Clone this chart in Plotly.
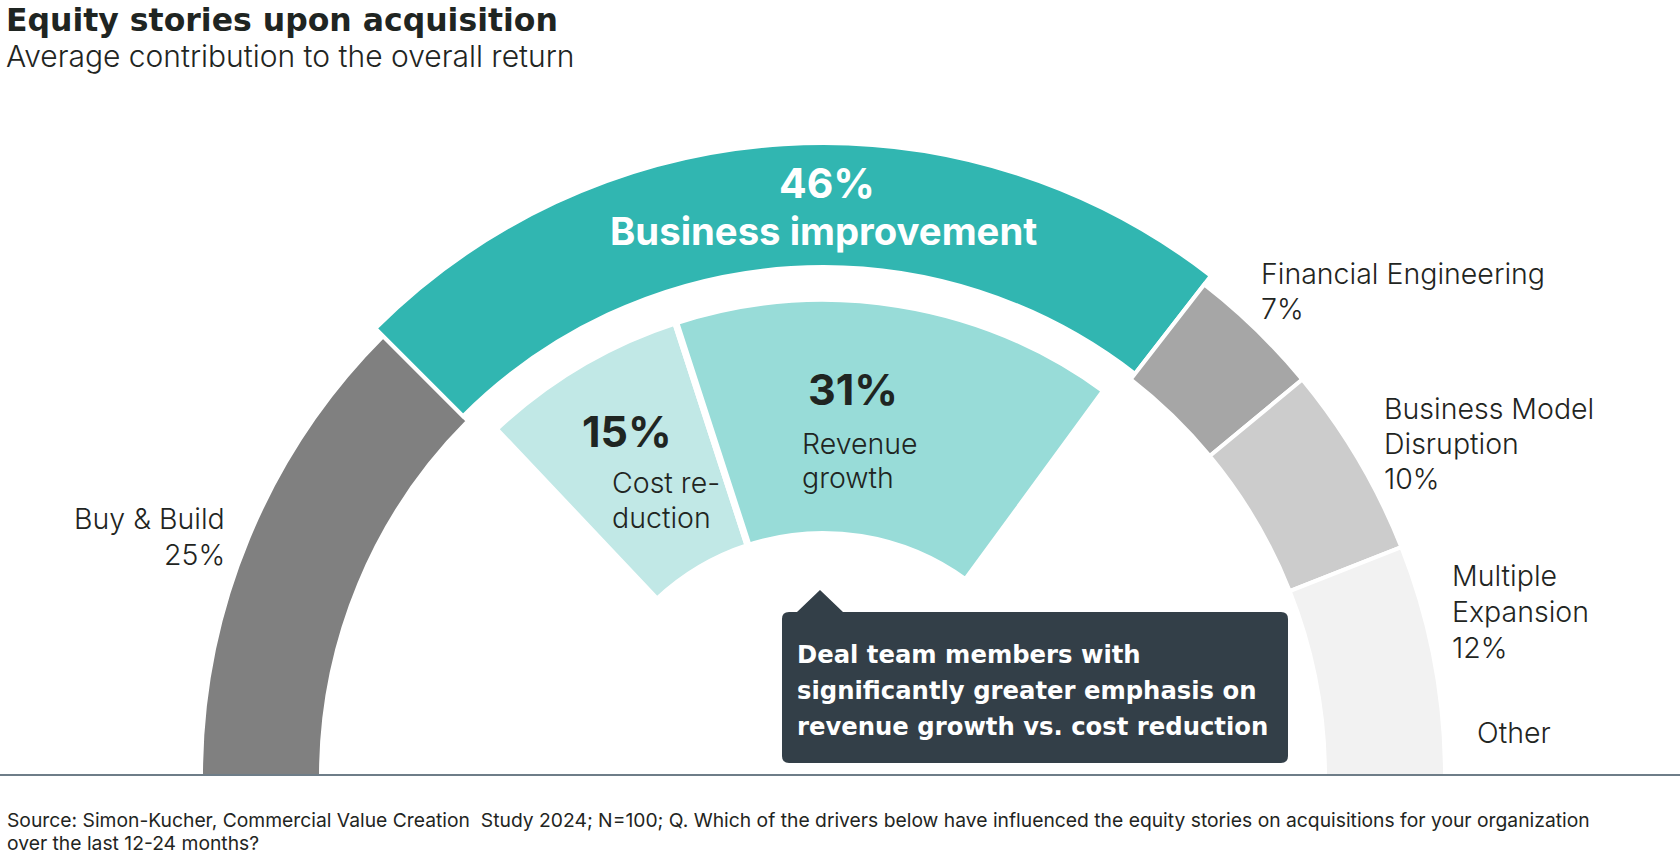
import plotly.graph_objects as go

# ---------------- data ----------------
categories = ["Buy & Build", "Business improvement", "Financial Engineering",
              "Business Model Disruption", "Multiple Expansion", "Other"]
shares = [25, 46, 7, 10, 12, 0]
sub_parent = "Business improvement"
sub_categories = ["Cost reduction", "Revenue growth"]
sub_shares = [15, 31]

title = "Equity stories upon acquisition"
subtitle = "Average contribution to the overall return"
callout_lines = ["Deal team members with",
                 "significantly greater emphasis on",
                 "revenue growth vs. cost reduction"]
source_lines = ["Source: Simon-Kucher, Commercial Value Creation\u00a0 Study 2024; N=100; Q. Which of the drivers below have influenced the equity stories on acquisitions for your organization",
                "over the last 12-24 months?"]

# ---------------- style ----------------
W, H = 1680, 864
CX, CY, RMAX = 823, 776, 640
FONT = "Inter"
WIDE = "DejaVu Sans"
ASCENT = {FONT: 0.969, WIDE: 0.928}
TXT = "#1f2522"
colors = {"Buy & Build": "#808080", "Business improvement": "#31b6b1",
          "Financial Engineering": "#a6a6a6", "Business Model Disruption": "#cccccc",
          "Multiple Expansion": "#f2f2f2", "Other": "#ffffff"}
sub_colors = ["#c1e8e6", "#98dcd8"]
ring = {"gray": (504, 620), "hi": (511, 631), "inner": (245, 474)}
STROKE_OUT, STROKE_IN, INNER_PAD = 4, 7, 1.6

deg = 180.0 / sum(shares)

# outer ring
th, wd, base, rr, cols = [], [], [], [], []
start = 0.0
spans = {}
for c, v in zip(categories, shares):
    span = v * deg
    spans[c] = (start, start + span)
    if v > 0:
        ri, ro = ring["hi"] if c == sub_parent else ring["gray"]
        th.append(start + span / 2)
        wd.append(span)
        base.append(ri - STROKE_OUT / 2)
        rr.append(ro - ri + STROKE_OUT)
        cols.append(colors[c])
    start += span

fig = go.Figure()
fig.add_trace(go.Barpolar(theta=th, width=wd, base=base, r=rr,
                          marker=dict(color=cols, line=dict(color="white", width=STROKE_OUT)),
                          hoverinfo="skip", showlegend=False))

# inner ring (breakdown of the highlighted segment)
p0, p1 = spans[sub_parent]
th2, wd2 = [], []
s = p0
for i, v in enumerate(sub_shares):
    a, b = s, s + v * deg
    if i == 0:
        a += INNER_PAD
    if i == len(sub_shares) - 1:
        b = p1 - INNER_PAD
    th2.append((a + b) / 2)
    wd2.append(b - a)
    s += v * deg
ri, ro = ring["inner"]
fig.add_trace(go.Barpolar(theta=th2, width=wd2, base=[ri - STROKE_IN / 2] * len(th2),
                          r=[ro - ri + STROKE_IN] * len(th2),
                          marker=dict(color=sub_colors, line=dict(color="white", width=STROKE_IN)),
                          hoverinfo="skip", showlegend=False))

fig.update_layout(
    width=W, height=H, margin=dict(l=0, r=0, t=0, b=0),
    paper_bgcolor="white", plot_bgcolor="white",
    polar=dict(
        domain=dict(x=[(CX - RMAX) / W, (CX + RMAX) / W],
                    y=[1 - CY / H, 1 - (CY - RMAX) / H]),
        sector=[0, 180], hole=0, bgcolor="rgba(0,0,0,0)",
        radialaxis=dict(range=[0, RMAX], autorange=False, visible=False, showgrid=False),
        angularaxis=dict(rotation=180, direction="clockwise", visible=False,
                         showgrid=False, type="linear"),
    ),
)


def ann(text, x, baseline, size, weight=300, color=TXT, xanchor="left", family=FONT, pad=1):
    top = baseline - ASCENT[family] * size - pad
    return dict(x=x / W, y=1 - top / H, xref="paper", yref="paper",
                xanchor=xanchor, yanchor="top", align=xanchor if xanchor != "center" else "center",
                showarrow=False, text=text, borderpad=pad,
                font=dict(family=family, size=size, color=color, weight=weight))


def block(lines, x, baseline, step, size, **kw):
    return [ann(t, x, baseline + step * i, size, **kw) for i, t in enumerate(lines)]


LBL = 28.5
anns = [
    ann(title, 5, 30, 31.5, weight=700, family=WIDE, pad=0),
    ann(subtitle, 5, 66, 30, weight=300, pad=0),
    ann(f"{shares[1]}%", CX + 4, 197, 41, weight=700, color="white", xanchor="center"),
    ann(categories[1], CX, 244, 38.3, weight=700, color="white", xanchor="center"),
    ann(f"{sub_shares[0]}%", 580, 446, 43, weight=700),
    ann(f"{sub_shares[1]}%", 806, 404, 43, weight=700),
]
anns += block(["Cost re-", "duction"], 610, 492, 35, LBL)
anns += block(["Revenue", "growth"], 800, 453, 34, LBL)
anns += block([categories[0], f"{shares[0]}%"], 227, 528, 36, LBL, xanchor="right")
anns += block([categories[2], f"{shares[2]}%"], 1259, 283, 34.5, LBL)
anns += block(["Business Model", "Disruption", f"{shares[3]}%"], 1382, 418, 35, LBL)
anns += block(["Multiple", "Expansion", f"{shares[4]}%"], 1450, 585, 36, LBL)
anns += [ann(categories[5], 1475, 742, LBL)]
anns += block(callout_lines, 795, 662, 36, 24.3, weight=700, color="white", family=WIDE)
anns += block(source_lines, 5, 826, 22.5, 19.3, weight=400)
fig.update_layout(annotations=anns)


def P(x, y):
    return f"{x / W:.6f},{1 - y / H:.6f}"


bx0, bx1, by0, by1, rad = 782, 1288, 612, 763, 7
tx0, tx1, tax, tay = 797, 843, 820, 590
path = (f"M{P(bx0 + rad, by0)} L{P(tx0, by0)} L{P(tax, tay)} L{P(tx1, by0)} "
        f"L{P(bx1 - rad, by0)} Q{P(bx1, by0)} {P(bx1, by0 + rad)} "
        f"L{P(bx1, by1 - rad)} Q{P(bx1, by1)} {P(bx1 - rad, by1)} "
        f"L{P(bx0 + rad, by1)} Q{P(bx0, by1)} {P(bx0, by1 - rad)} "
        f"L{P(bx0, by0 + rad)} Q{P(bx0, by0)} {P(bx0 + rad, by0)} Z")
fig.update_layout(shapes=[
    dict(type="path", path=path, xref="paper", yref="paper",
         fillcolor="#333f48", line=dict(width=0), layer="above"),
    dict(type="line", xref="paper", yref="paper", x0=0, x1=1,
         y0=1 - 775 / H, y1=1 - 775 / H, line=dict(color="#6e7d88", width=2), layer="above"),
])

fig.write_html("out.html")
